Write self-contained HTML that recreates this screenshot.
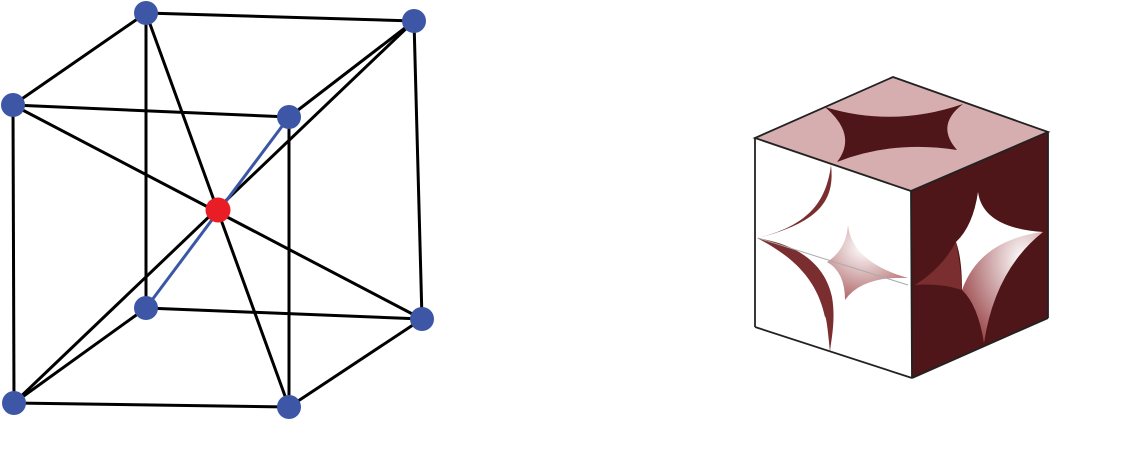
<!DOCTYPE html>
<html><head><meta charset="utf-8"><style>html,body{margin:0;padding:0;background:#fff}svg{display:block}</style></head>
<body>
<svg width="1122" height="454" viewBox="0 0 1122 454" xmlns="http://www.w3.org/2000/svg">
<defs>
<radialGradient id="g1" cx="0.75" cy="0.25" r="0.85"><stop offset="0" stop-color="#fff"/><stop offset="1" stop-color="#9c4a4d"/></radialGradient>
<radialGradient id="g2" cx="0.45" cy="0.3" r="0.8"><stop offset="0" stop-color="#fff"/><stop offset="1" stop-color="#a8585b"/></radialGradient>
</defs>
<g stroke="#000" stroke-width="3" fill="none">
<line x1="146" y1="13" x2="414" y2="21"/><line x1="13" y1="105" x2="289" y2="117"/>
<line x1="146" y1="13" x2="13" y2="105"/><line x1="414" y1="21" x2="289" y2="117"/>
<line x1="13" y1="105" x2="14" y2="403"/><line x1="289" y1="117" x2="289" y2="407"/>
<line x1="146" y1="13" x2="146" y2="308"/><line x1="414" y1="21" x2="422" y2="319"/>
<line x1="14" y1="403" x2="289" y2="407"/><line x1="146" y1="308" x2="422" y2="319"/>
<line x1="14" y1="403" x2="146" y2="308"/><line x1="289" y1="407" x2="422" y2="319"/>
<line x1="13" y1="105" x2="422" y2="319"/><line x1="146" y1="13" x2="289" y2="407"/>
<line x1="414" y1="21" x2="14" y2="403"/>
</g>
<line x1="289" y1="117" x2="146" y2="308" stroke="#3a56a5" stroke-width="3"/>
<g fill="#3d56a6">
<circle cx="146" cy="13" r="12"/><circle cx="414" cy="21" r="12"/><circle cx="13" cy="105" r="12"/><circle cx="289" cy="117" r="12"/>
<circle cx="146" cy="308" r="12"/><circle cx="422" cy="319" r="12"/><circle cx="14" cy="403" r="12"/><circle cx="289" cy="407" r="12"/>
</g>
<circle cx="218" cy="210" r="12.5" fill="#e81d25"/>

<!-- right cube: top -->
<polygon points="755,138 893,77 1048,132 911,191" fill="#d6aeb0"/>
<path d="M825,107 Q893,128 963,104 Q935,125 957,150 Q893,140 837,162 Q858,135 825,107 Z" fill="#4e1618"/>
<!-- left face -->
<polygon points="755,138 911,191 912,378 755,327" fill="#fff"/>
<path d="M831,165 C835,200 820,222 758,238 C805,226 826,205 831,165 Z" fill="#7a2e30"/>
<path d="M757,238 C800,245 825,265 832,297 C836,320 831,340 830,352 C828,330 826,315 825,317 C818,285 800,260 757,238 Z" fill="#7a2e30"/>
<path d="M848,225 Q852,262 908,278 Q862,276 845,300 Q845,272 827,262 Q846,250 848,225 Z" fill="url(#g2)"/>
<path d="M758,238 L908,285" stroke="#aaa" stroke-width="1" fill="none"/>
<!-- right face -->
<polygon points="911,191 1048,132 1048,318 912,378" fill="#4e1618"/>
<path d="M978,192 Q983,228 1043,232 Q990,240 962,290 Q962,258 956,242 Q973,226 978,192 Z" fill="#fff"/>
<path d="M962,290 Q980,240 1043,232 Q995,270 984,343 Q978,305 962,290 Z" fill="url(#g1)"/>
<path d="M915,285 Q942,268 956,242 Q961,268 962,290 Q940,283 915,285 Z" fill="#7a2e30"/>
<g stroke="#222" stroke-width="1.8" fill="none">
<polygon points="755,138 893,77 1048,132 911,191"/>
<line x1="911" y1="191" x2="912" y2="378"/>
<line x1="755" y1="138" x2="755" y2="327"/>
<line x1="755" y1="327" x2="912" y2="378"/>
<line x1="912" y1="378" x2="1048" y2="318"/>
<line x1="1048" y1="132" x2="1048" y2="318"/>
</g>
</svg>
</body></html>
